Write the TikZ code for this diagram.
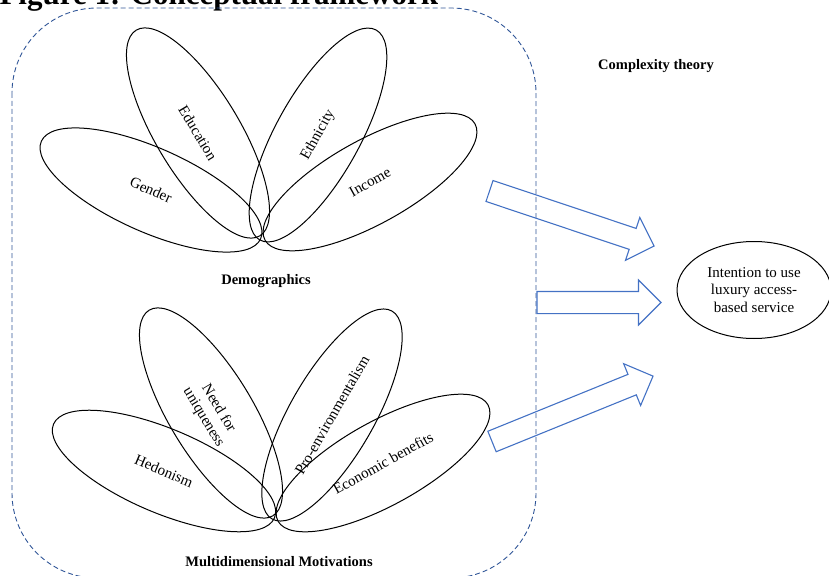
\documentclass[tikz,border=0pt]{standalone}
\usepackage{fontspec}
\setmainfont{Liberation Serif}
\usetikzlibrary{shapes.geometric,shapes.arrows}
\definecolor{framecol}{HTML}{2F5597}
\definecolor{arrowcol}{HTML}{4472C4}
\begin{document}
\begin{tikzpicture}[x=1pt,y=-1pt,
  petal/.style={draw, ellipse, line width=1pt, minimum width=240pt,
    minimum height=84pt, inner sep=0pt, outer sep=0pt, align=center,
    font=\fontsize{15}{17.5}\selectfont},
  outcome/.style={draw, ellipse, line width=1pt, minimum width=154pt,
    minimum height=97pt, inner sep=0pt, align=center,
    font=\fontsize{15}{17.5}\selectfont},
  grouplabel/.style={font=\bfseries\fontsize{14.5}{17}\selectfont},
  blockarrow/.style={draw=arrowcol, line width=1.1pt, single arrow,
    inner xsep=0pt, inner ysep=10.5pt, outer sep=0pt, minimum width=44pt,
    single arrow head extend=11.5pt, anchor=tail},
  frame/.style={draw=framecol, line width=0.9pt, dash pattern=on 5pt off 3pt,
    rounded corners=85pt}]
\useasboundingbox (0,0) rectangle (829,575);
\clip (0,0) rectangle (829,575);

% caption line, cut by the upper edge
\node (title) [anchor=base west, font=\bfseries\fontsize{31}{35}\selectfont]
  at (-4,5) {Figure 1: Conceptual framework};

% dashed boundary around the antecedents
\draw[frame] (12,8) rectangle (536,578);

% demographic petals
\node (gender)    [petal, rotate=-24] at (151,190) {Gender};
\node (education) [petal, rotate=-59] at (198,133) {Education};
\node (ethnicity) [petal, rotate=61]  at (318,135) {Ethnicity};
\node (income)    [petal, rotate=29]  at (370,182) {Income};
\node (demo) [grouplabel] at (266,281) {Demographics};

% motivation petals
\node (hedonism)   [petal, rotate=-23] at (164,471) {Hedonism};
\node (uniqueness) [petal, rotate=-59] at (211,413) {Need for\\uniqueness};
\node (proenv)     [petal, rotate=60]  at (332,415) {Pro-environmentalism};
\node (economic)   [petal, rotate=29]  at (383,463) {Economic benefits};
\node (motiv) [grouplabel] at (279,562) {Multidimensional Motivations};

% theory and outcome
\node (theory) [grouplabel] at (656,66) {Complexity theory};
\node (intent) [outcome] at (754,290) {Intention to use\\luxury access-\\based service};

% block arrows towards the outcome
\node (arrdemo)  [blockarrow, minimum height=173.5pt, rotate=-18.5] at (489.5,191) {};
\node (arrbox)   [blockarrow, minimum height=124pt] at (537,302.5) {};
\node (arrmotiv) [blockarrow, minimum height=173.8pt, rotate=22.1] at (492,441.5) {};
\end{tikzpicture}
\end{document}
